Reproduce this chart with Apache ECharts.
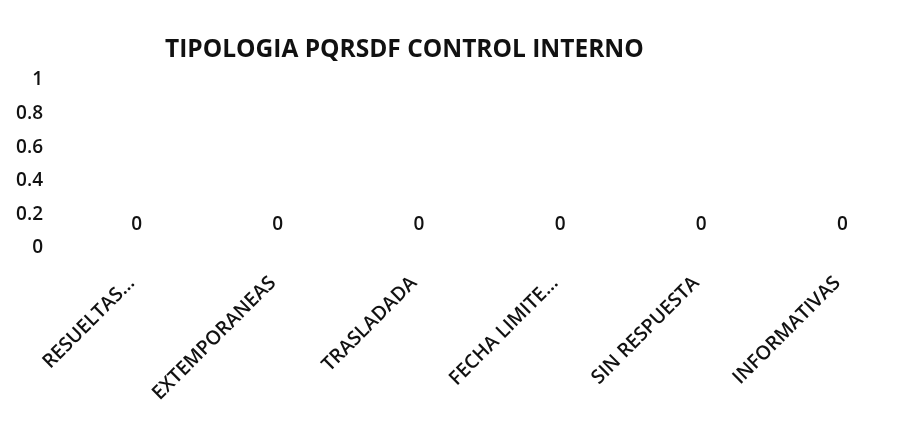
<!DOCTYPE html>
<html>
<head>
<meta charset="utf-8">
<title>Tipologia PQRSDF</title>
<script src="https://cdn.jsdelivr.net/npm/echarts@6/dist/echarts.min.js"></script>
<style>
    html, body { margin: 0; padding: 0; background: #fff; }
    #chart { width: 913px; height: 421px; }
</style>
</head>
<body>
<div id="chart"></div>
<script>
// --- Data ---
const categories = ['RESUELTAS...', 'EXTEMPORANEAS', 'TRASLADADA', 'FECHA LIMITE...', 'SIN RESPUESTA', 'INFORMATIVAS'];
const values = [0, 0, 0, 0, 0, 0];
const yTicks = { min: 0, max: 1, interval: 0.2 };

const font = '"Open Sans", "Noto Sans", sans-serif';

const chart = echarts.init(document.getElementById('chart'));
chart.setOption({
    animation: false,
    title: {
        text: 'TIPOLOGIA PQRSDF CONTROL INTERNO',
        left: 160,
        top: 33,
        textStyle: { fontFamily: font, fontSize: 24.5, fontWeight: 'bold', color: '#111' }
    },
    grid: { left: 66, right: 0, top: 80, bottom: 173, containLabel: false },
    xAxis: {
        type: 'category',
        data: categories,
        axisLine: { show: false },
        axisTick: { show: false },
        axisLabel: {
            rotate: 45,
            interval: 0,
            margin: 27,
            padding: [0, 7, 0, 0],
            fontFamily: font,
            fontSize: 19.5,
            fontWeight: 600,
            color: '#111'
        }
    },
    yAxis: {
        type: 'value',
        min: yTicks.min,
        max: yTicks.max,
        interval: yTicks.interval,
        axisLine: { show: false },
        axisTick: { show: false },
        splitLine: { show: false },
        axisLabel: {
            margin: 23,
            fontFamily: font,
            fontSize: 19,
            fontWeight: 600,
            color: '#111',
            formatter: v => String(Math.round(v * 10) / 10)
        }
    },
    series: [{
        type: 'bar',
        data: values,
        barWidth: '40%',
        itemStyle: { color: '#4f81bd' },
        label: {
            show: true,
            position: 'top',
            distance: 14,
            fontFamily: font,
            fontSize: 19,
            fontWeight: 600,
            color: '#111'
        }
    }]
});
</script>
</body>
</html>
